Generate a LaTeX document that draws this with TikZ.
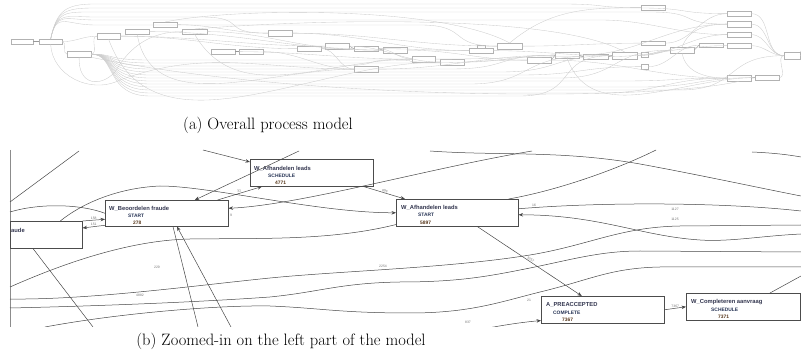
\documentclass[tikz,border=0pt]{standalone}
\usepackage{fontspec}
\newfontfamily\boxfont{Liberation Sans}
\usetikzlibrary{arrows.meta}
\definecolor{namecol}{HTML}{33364F}
\definecolor{typecol}{HTML}{283556}
\definecolor{countcol}{HTML}{553519}
\tikzset{
  act/.style={draw=black!70, line width=0.55pt, inner sep=0pt, anchor=north west},
  aname/.style={anchor=base west, inner sep=0pt, text=namecol, font=\boxfont\bfseries\fontsize{5.8}{7}\selectfont},
  atype/.style={anchor=base west, inner sep=0pt, text=typecol, font=\boxfont\bfseries\fontsize{4.9}{6}\selectfont},
  acount/.style={atype, text=countcol},
  flow/.style={draw=black!72, line width=0.5pt},
  arr/.style={flow, -{Stealth[length=4.5pt,width=3.5pt]}},
  elabel/.style={inner sep=0.6pt, text=black!55, font=\boxfont\fontsize{3.4}{4}\selectfont},
  tbox/.style={draw=black!30, line width=0.3pt, inner sep=0pt, anchor=north west},
  tflow/.style={draw=black!20, line width=0.35pt},
  caption/.style={inner sep=0pt, font=\fontsize{16.5}{19}\selectfont}
}
\begin{document}
\begin{tikzpicture}[x=1pt,y=-1pt]
\useasboundingbox (0,0) rectangle (801,363);

% (a) overall model
\foreach \n/\x/\y/\w/\h in {t1/11/39/22/5, t2/39/39/23/5, t3/67/51/24/6, t4/97/33/23/6,
  t5/125/29/24/5, t6/153/22/24/5, t7/182/29/25/5, t8/211/49/24/5, t9/239/49/24/5,
  t10/268/30/24/6, t11/297/46/24/5, t12/325/43/24/6, t13/354/46/24/5, t14/383/47/24/6,
  t15/412/56/23/6, t16/440/59/24/6, t17/354/66/24/6, t18/469/48/24/5, t19/477/45/8/3,
  t20/497/43/25/6, t21/527/57/24/6, t22/555/52/24/6, t23/583/54/25/5, t24/612/52/25/7,
  t25/641/52/7/5, t26/641/64/7/5, t27/641/41/24/4, t28/641/5/24/5, t29/670/47/24/6,
  t30/699/43/24/4, t31/727/11/24/5, t32/727/21/24/6, t33/727/32/24/5, t34/727/43/24/5,
  t35/727/75/24/6, t36/755/75/24/5, t37/784/52/16/7}
  \node[tbox, minimum width=\w, minimum height=\h] (\n) at (\x,\y) {};

\foreach \l/\m/\b in {60/380/t16, 63/420/t21, 66/330/t15, 69/450/t22, 72/500/t24,
  75/520/t26, 78/560/t29, 81/620/t35, 84/470/t23, 87/640/t36, 90/680/t37, 93/600/t35, 96/520/t24}
  \draw[tflow] (t3.east) .. controls +(25,0) and +(-45,0) .. (150,\l) -- (\m,\l)
    .. controls +(60,0) and +(-60,0) .. (\b.west);
\foreach \l/\m/\b in {4/560/t28, 8/640/t31, 12/650/t32, 17/200/t10, 20/600/t33, 25/420/t20}
  \draw[tflow] (t2.north) .. controls +(6,-28) and +(-30,0) .. (95,\l) -- (\m,\l)
    .. controls +(50,0) and +(-50,0) .. (\b.west);
\foreach \a/\b in {t3/t4, t4/t11, t4/t12, t5/t14, t6/t10, t7/t13, t9/t17, t8/t15, t10/t20,
  t10/t18, t11/t14, t12/t16, t13/t18, t14/t21, t17/t22, t18/t24, t20/t27, t24/t29, t24/t33,
  t27/t31, t34/t37, t33/t37, t32/t37, t31/t37, t36/t37, t26/t30, t25/t29, t15/t23, t16/t22,
  t21/t35, t23/t34, t22/t32, t11/t17, t13/t15, t2/t3, t2/t4}
  \draw[tflow] (\a.east) to[out=0,in=180] (\b.west);
\draw[tflow] (t3.south) .. controls (78,85) and (100,88) .. (115,72) to[out=60,in=180] (t7.west);
\draw[tflow] (t2.south) .. controls (52,75) and (90,95) .. (120,80) to[out=20,in=180] (t17.west);
\draw[tflow] (t4.south) to[out=-70,in=180] (t16.west);
\draw[tflow] (t5.south) to[out=-80,in=180] (t17.west);
\draw[tflow] (t7.south) to[out=-60,in=180] (t15.west);
\draw[tflow] (t29.south) to[out=-80,in=180] (t35.west);
\draw[tflow] (t22.south) to[out=-70,in=180] (t36.west);
\draw[tflow] (t29.north) to[out=70,in=180] (t32.west);
\draw[tflow] (t20.north) to[out=40,in=180] (t28.west);
\draw[tflow] (t20.north) .. controls (440,5) and (230,8) .. (t6.north);
\draw[tflow] (t24.north) .. controls (560,15) and (330,18) .. (t7.north);
\draw[tflow] (t35.south) .. controls (650,102) and (300,100) .. (t3.south east);
\draw[tflow] (t37.north east) .. controls +(3,-6) and +(6,-2) .. (t37.east);
\foreach \a/\b in {t1/t2, t8/t9, t21/t22, t22/t23, t23/t24, t35/t36, t29/t30, t12/t13, t13/t14}
  \draw[tflow, draw=black!40] (\a.east) -- (\b.west);

\node[caption] (capA) at (268,125.5) {(a) Overall process model};

% (b) zoomed-in part
\begin{scope}
\clip (0,150) rectangle (801,327);
\draw[draw=black!45, line width=0.5pt] (10,150) -- (10,327);

\node[act, minimum width=72, minimum height=27] (lft) at (10,221) {};
\node[act, minimum width=123, minimum height=26] (frd) at (105,200) {};
\node[act, minimum width=123, minimum height=27] (ldsS) at (250,159) {};
\node[act, minimum width=122, minimum height=27] (ldsT) at (396,199) {};
\node[act, minimum width=123, minimum height=27] (pre) at (541,296) {};
\node[act, minimum width=114, minimum height=27] (cmp) at (686,293) {};

\node[aname] (lft-a) at (11,233) {aude};
\node[aname] (frd-a) at (109,211) {W\_Beoordelen fraude};
\node[atype] (frd-b) at (128,218) {START};
\node[acount] (frd-c) at (133,225) {278};
\node[aname] (ldsS-a) at (254,171) {W\_Afhandelen leads};
\node[atype] (ldsS-b) at (268,178) {SCHEDULE};
\node[acount] (ldsS-c) at (275,185) {4771};
\node[aname] (ldsT-a) at (401,210) {W\_Afhandelen leads};
\node[atype] (ldsT-b) at (418,217) {START};
\node[acount] (ldsT-c) at (420,225) {5897};
\node[aname] (pre-a) at (546,307) {A\_PREACCEPTED};
\node[atype] (pre-b) at (553,315) {COMPLETE};
\node[acount] (pre-c) at (562,322) {7367};
\node[aname] (cmp-a) at (691,304) {W\_Completeren aanvraag};
\node[atype] (cmp-b) at (711,312) {SCHEDULE};
\node[acount] (cmp-c) at (718,319) {7371};

\coordinate (ul1) at (10,202);
\coordinate (ul2) at (79,151);
\coordinate (le1) at (10,212);
\coordinate (le2) at (10,287);
\coordinate (le3) at (10,299);
\coordinate (le4) at (10,308);
\coordinate (tp1) at (203,150);
\coordinate (tp2) at (299,151);
\coordinate (tp3) at (532,151);
\coordinate (tp4) at (656,150);
\coordinate (tp5) at (430,151);
\coordinate (tp6) at (752,152);
\coordinate (re1) at (801,225);
\coordinate (re2) at (801,252);
\coordinate (re3) at (801,267);
\coordinate (re4) at (801,196);
\coordinate (re5) at (801,157);
\coordinate (re6) at (801,211);
\coordinate (re7) at (801,234);
\coordinate (re8) at (801,276);
\coordinate (bt1) at (45,327);
\coordinate (bt2) at (488,328);
\coordinate (bt3) at (93,327);
\coordinate (bt4) at (198,327);
\coordinate (bt5) at (231,327);

\draw[flow] (ul1) -- (ul2);
\draw[arr] (tp1) -- ([yshift=-3pt]ldsS.north west);
\draw[arr] (tp2) -- ([xshift=28pt]frd.north);
\draw[arr] ([xshift=-11pt]frd.north east) -- node[elabel, above, sloped] (l32) {32} ([xshift=12pt]ldsS.south west);
\draw[arr] (lft.north east) -- node[elabel, above] (l158) {158} ([yshift=-6pt]frd.west);
\draw[arr] ([yshift=-12pt]frd.west) -- node[elabel, above] (l151) {151} ([yshift=-7pt]lft.north east);
\draw[flow] (le1) .. controls (40,203) and (80,204) .. (frd.west);
\draw[arr] ([xshift=14pt]lft.north) .. controls (80,205) and (115,188) .. (160,186)
  .. controls (210,186) and (320,213) .. (ldsT.west);
\draw[arr] (tp3) .. controls (430,168) and (300,205) .. ([yshift=5pt]frd.east);
\draw[arr] ([xshift=-10pt]ldsS.south east) -- node[elabel, above, sloped] (l899) {899} ([xshift=9pt]ldsT.north west);
\draw[flow] (le2) .. controls (80,256) and (140,240) .. (190,239)
  .. controls (260,238) and (330,241) .. ([yshift=2pt]ldsT.south west);
\draw[flow] (le3) .. controls (90,300) and (200,285) .. (270,278)
  .. controls (340,271) and (450,268) .. (530,255)
  .. controls (590,245) and (620,227) .. (680,226) -- (re1);
\draw[flow] (le4) .. controls (100,306) and (200,302) .. (270,297)
  .. controls (320,292) and (340,283) .. (400,282)
  .. controls (460,282) and (490,276) .. (530,268)
  .. controls (570,260) and (600,251) .. (640,251) -- (re2);
\draw[flow] (bt1) .. controls (120,313) and (220,305) .. (270,306)
  .. controls (320,308) and (340,313) .. (410,313)
  .. controls (470,313) and (500,302) .. (540,292)
  .. controls (590,280) and (610,268) .. (660,267) -- (re3);
\draw[arr] (bt2) .. controls (510,324) and (525,322) .. ([yshift=3pt]pre.south west);
\draw[arr] ([xshift=20pt]ldsT.south) -- node[elabel, above, sloped] (l3257) {3257} ([xshift=-21pt]pre.north);
\draw[flow] ([xshift=-10pt]ldsT.north east) .. controls (560,190) and (620,168) .. (tp4);
\draw[flow] (tp5) .. controls (500,156) and (560,150) .. (640,164)
  .. controls (700,175) and (760,188) .. (re4);
\draw[flow] (tp6) .. controls (775,153) and (790,155) .. (re5);
\draw[flow] ([yshift=4pt]ldsT.east) .. controls (600,202) and (720,202) .. (re6);
\draw[arr] (re7) .. controls (760,236) and (730,242) .. (700,240)
  .. controls (640,236) and (600,215) .. ([yshift=-2pt]ldsT.east);
\draw[arr] (pre.east) -- node[elabel, above] (l7367) {7367} (cmp.west);
\draw[flow] ([xshift=84pt]cmp.north west) -- (re8);
\draw[flow] ([xshift=23pt]lft.south west) -- (bt3);
\draw[flow] ([xshift=68pt]frd.south west) -- (bt4);
\draw[arr] (bt5) -- ([xshift=72pt]frd.south west);

\node[elabel] (l9) at (231,215) {9};
\node[elabel] (l229) at (157,267) {229};
\node[elabel] (l4882) at (140,295) {4882};
\node[elabel] (l2254) at (383,266) {2254};
\node[elabel] (l837) at (468,322) {837};
\node[elabel] (l21) at (529,300) {21};
\node[elabel] (l16) at (534,205) {16};
\node[elabel] (l1127) at (675,209) {1127};
\node[elabel] (l1125) at (675,219) {1125};
\end{scope}

\node[caption] (capB) at (281,341.5) {(b) Zoomed-in on the left part of the model};
\end{tikzpicture}
\end{document}
